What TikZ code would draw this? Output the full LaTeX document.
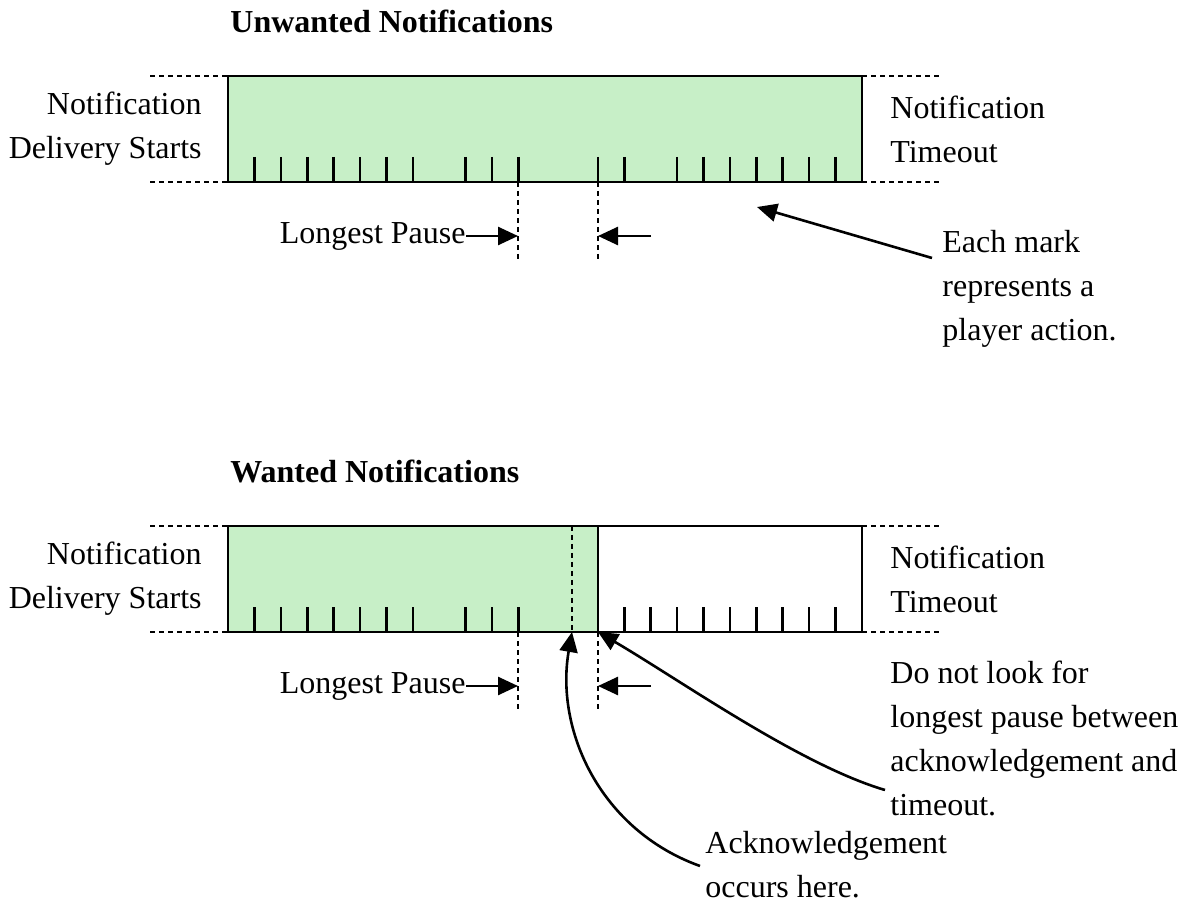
\documentclass[tikz,border=0pt]{standalone}
\usepackage{fontspec}
\setmainfont{Liberation Serif}
\usetikzlibrary{arrows.meta}

\definecolor{bargreen}{RGB}{199,239,199}
\tikzset{
  lbl/.style={font=\fontsize{16}{22}\selectfont, inner sep=0pt},
  ttl/.style={font=\fontsize{16}{22}\selectfont\bfseries, inner sep=0pt},
  edge/.style={line width=1.3pt},
  dotline/.style={line width=1.3pt, dash pattern=on 2.5pt off 2pt},
  ptr/.style={line width=1.3pt, -{Triangle[length=10pt,width=9pt]}},
}

\begin{document}
\begin{tikzpicture}[x=0.5pt,y=-0.5pt]
    \useasboundingbox (0,0) rectangle (1200,903);

    % unwanted notifications
    \coordinate (A1) at (228, 76);
    \coordinate (B1) at (862, 182);
    \coordinate (P1) at (518, 182);
    \coordinate (Q1) at (598, 182);

    \node[ttl, anchor=base west] (title1) at (230, 33) {Unwanted Notifications};
    \filldraw[fill=bargreen, edge] (A1) rectangle (B1);
    \foreach \k in {1,2,3,4,5,6,7,9,10,11,14,15,17,18,19,20,21,22,23}
        \draw[edge] (228+\k*26.4167, 157) -- (228+\k*26.4167, 182);

    \draw[dotline] (150, 76) -- (A1);
    \draw[dotline] (150, 182) -- (A1 |- B1);
    \draw[dotline] (B1 |- A1) -- (942, 76);
    \draw[dotline] (B1) -- (942, 182);
    \draw[dotline] (P1) -- (518, 262);
    \draw[dotline] (Q1) -- (598, 262);

    \node[lbl, anchor=east, align=right] (start1) at (202, 129) {Notification\\Delivery Starts};
    \node[lbl, anchor=west, align=left] (end1) at (890, 129) {Notification\\Timeout};

    \node[lbl, anchor=east] (pause1) at (466, 236) {Longest Pause};
    \coordinate (pl1) at (518, 236);
    \coordinate (pr1) at (598, 236);
    \coordinate (ps1) at (651, 236);
    \draw[ptr] (pause1.east) -- (pl1);
    \draw[ptr] (ps1) -- (pr1);

    \node[lbl, anchor=west, align=left] (mark) at (942, 289) {Each mark\\represents a\\player action.};
    \coordinate (markfrom) at (932, 258);
    \coordinate (markto) at (757, 207);
    \draw[ptr] (markfrom) -- (markto);

    % wanted notifications
    \coordinate (A2) at (228, 526);
    \coordinate (B2) at (862, 632);
    \coordinate (ack) at (572, 632);
    \coordinate (P2) at (518, 632);
    \coordinate (Q2) at (598, 632);

    \node[ttl, anchor=base west] (title2) at (230, 483) {Wanted Notifications};
    \fill[bargreen] (A2) rectangle (Q2);
    \draw[edge] (A2) rectangle (B2);
    \draw[edge] (598, 526) -- (Q2);
    \draw[dotline] (572, 526) -- (ack);
    \foreach \k in {1,2,3,4,5,6,7,9,10,11,15,16,17,18,19,20,21,22,23}
        \draw[edge] (228+\k*26.4167, 607) -- (228+\k*26.4167, 632);

    \draw[dotline] (150, 526) -- (A2);
    \draw[dotline] (150, 632) -- (A2 |- B2);
    \draw[dotline] (B2 |- A2) -- (942, 526);
    \draw[dotline] (B2) -- (942, 632);
    \draw[dotline] (P2) -- (518, 712);
    \draw[dotline] (Q2) -- (598, 712);

    \node[lbl, anchor=east, align=right] (start2) at (202, 579) {Notification\\Delivery Starts};
    \node[lbl, anchor=west, align=left] (end2) at (890, 579) {Notification\\Timeout};

    \node[lbl, anchor=east] (pause2) at (466, 686) {Longest Pause};
    \coordinate (pl2) at (518, 686);
    \coordinate (pr2) at (598, 686);
    \coordinate (ps2) at (651, 686);
    \draw[ptr] (pause2.east) -- (pl2);
    \draw[ptr] (ps2) -- (pr2);

    \node[lbl, anchor=west, align=left] (look) at (890, 738) {Do not look for\\longest pause between\\acknowledgement and\\timeout.};
    \coordinate (lookfrom) at (885, 790);
    \draw[ptr] (lookfrom) .. controls (800, 765) and (680, 680) .. (Q2);

    \node[lbl, anchor=west, align=left] (here) at (705, 865) {Acknowledgement\\occurs here.};
    \coordinate (herefrom) at (700, 866);
    \draw[ptr] (herefrom) .. controls (600, 830) and (555, 730) .. (ack);

\end{tikzpicture}
\end{document}
